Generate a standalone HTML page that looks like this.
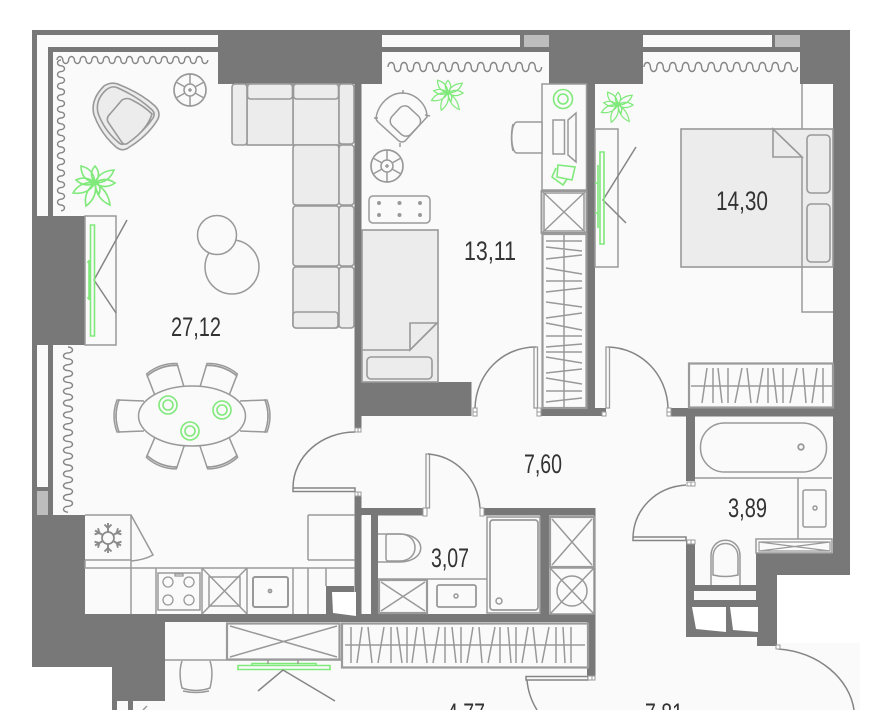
<!DOCTYPE html>
<html><head><meta charset="utf-8"><style>
html,body{margin:0;padding:0;background:#fff}
svg{display:block}
text{font-family:"Liberation Sans Narrow","Liberation Sans",sans-serif;font-size:27px;fill:#333}
.l{fill:none;stroke:#999;stroke-width:1.5}
.d{fill:none;stroke:#858585;stroke-width:1.4}
.f{fill:#ececec;stroke:#999;stroke-width:1.6}
.p{fill:#fafafa;stroke:#999;stroke-width:1.5}
.g{fill:none;stroke:#7fe97a;stroke-width:1.6}
.b{fill:#fafafa;stroke:#9a9a9a;stroke-width:2.2}
</style></head><body>
<svg xmlns="http://www.w3.org/2000/svg" xmlns:xlink="http://www.w3.org/1999/xlink" width="872" height="710" viewBox="0 0 872 710">
<defs>
<g id="plant" class="g" fill="none"><path d="M0 0Q-1 -14 -14 -17Q-14 -3 0 0ZM0 0Q7 -9 0 -17Q-7 -9 0 0ZM0 0Q14 0 19 -13Q4 -12 0 0ZM0 0Q10 7 20 0Q10 -7 0 0ZM0 0Q13 7 15 22Q1 16 0 0ZM0 0Q3 14 -9 23Q-12 9 0 0ZM0 0Q-7 12 -22 10Q-15 -2 0 0ZM0 0Q-9 -8 -19 -3Q-10 5 0 0Z"/><path d="M1 -1Q7 3 4 11Q-1 5 1 -1Z"/></g>
<g id="chair"><path class="p" d="M-15 14L-16 -11Q0 -17 16 -11L15 14"/><path class="l" d="M-16 -13Q0 -19 16 -13L16 -11Q0 -17 -16 -11Z"/></g>
<g id="rt"><circle class="l" r="16" style="stroke-width:1.7"/><circle class="l" r="6"/><path class="l" d="M0 -16V-6M0 6V16M-14 -8L-5 -3M14 -8L5 -3M-14 8L-5 3M14 8L5 3M-2 0H2M0 -2V2"/></g>
<path id="wh" d="M0 0a2.9 3.5 0 0 1 5.800 0a2.900 3.500 0 0 0 5.800 0" fill="none" stroke="#858585" stroke-width="1.400"/>
<path id="wr" d="M0 0a3.200 4.500 0 0 1 6.400 0a3.200 4.500 0 0 0 6.400 0" fill="none" stroke="#858585" stroke-width="1.400"/>
<path id="sp" d="M0 -6V-15M-3.500 -13.500L0 -10L3.500 -13.500" fill="none" stroke="#8a8a8a" stroke-width="1.900"/>
</defs>
<rect width="872" height="710" fill="#fff"/>
<path fill="#fafafa" d="M32 30H850V575H777V643H860V710H112V667H32Z"/>
<g fill="#787878">
<rect x="32" y="30" width="818" height="5"/>
<rect x="32" y="30" width="5" height="486"/>
<rect x="48" y="47" width="170" height="5"/>
<rect x="48" y="47" width="5" height="170"/>
<rect x="48" y="345" width="5" height="170"/>
<rect x="37" y="487" width="11" height="4"/>
<rect x="218" y="30" width="164" height="54"/>
<rect x="382" y="47" width="167" height="5"/>
<rect x="520" y="35" width="4" height="12"/>
<rect x="549" y="30" width="94" height="54"/>
<rect x="643" y="47" width="157" height="5"/>
<rect x="772" y="35" width="3" height="12"/>
<rect x="800" y="30" width="50" height="54"/>
<rect x="833" y="84" width="17" height="491"/>
<rect x="32" y="216" width="53" height="129"/>
<path d="M32 515H85V614H165V701H112V667H32Z"/>
<rect x="85" y="614" width="510" height="8"/>
<rect x="354.500" y="84" width="7" height="344"/>
<rect x="354.500" y="496" width="7" height="118"/>
<rect x="361" y="382" width="110.500" height="34"/>
<rect x="361" y="508" width="64" height="7.500"/>
<rect x="483" y="508" width="112" height="7.500"/>
<rect x="371" y="515" width="7" height="100"/>
<rect x="540" y="515" width="9" height="100"/>
<rect x="594" y="508" width="1.500" height="114"/>
<rect x="587" y="620" width="8.500" height="56"/>
<rect x="586.500" y="84" width="8.500" height="324"/>
<rect x="538" y="408" width="65" height="8"/>
<rect x="670" y="408" width="163" height="8.500"/>
<rect x="590" y="408" width="16" height="8"/>
<rect x="686" y="416" width="9" height="65"/>
<path d="M686 541H695V585H756V553H833V575H777V646H757V637H686Z"/>
<rect x="112" y="701" width="5" height="9"/>
<rect x="128" y="701" width="5" height="9"/>
</g>
<!-- windows gray -->
<rect x="524" y="35" width="25" height="12" fill="#bdbdbd"/>
<rect x="775" y="35" width="25" height="12" fill="#bdbdbd"/>
<rect x="37" y="491" width="11" height="24" fill="#bdbdbd"/>
<!-- niche whites -->
<rect x="694" y="591" width="62" height="9" fill="#fafafa"/>
<path fill="#fff" d="M692 607H726L726 632L696 629Z"/>
<path fill="#fff" d="M730 607H758V632L733 630Z"/>
<rect x="362" y="515" width="9" height="99" fill="#fafafa"/>
<path fill="#787878" d="M326 586H354V614H326Z"/>
<path fill="#fff" d="M332 592H356V616L333 613Z"/>
<!-- curtains -->
<path class="d" d="M57 60a2.900 3.500 0 0 1 5.800 0a2.900 3.500 0 0 0 5.800 0a2.900 3.500 0 0 1 5.800 0a2.900 3.500 0 0 0 5.800 0a2.900 3.500 0 0 1 5.800 0a2.900 3.500 0 0 0 5.800 0a2.900 3.500 0 0 1 5.800 0a2.900 3.500 0 0 0 5.800 0a2.900 3.500 0 0 1 5.800 0a2.900 3.500 0 0 0 5.800 0a2.900 3.500 0 0 1 5.800 0a2.900 3.500 0 0 0 5.800 0a2.900 3.500 0 0 1 5.800 0a2.900 3.500 0 0 0 5.800 0a2.900 3.500 0 0 1 5.800 0a2.900 3.500 0 0 0 5.800 0a2.900 3.500 0 0 1 5.800 0a2.900 3.500 0 0 0 5.800 0a2.900 3.500 0 0 1 5.800 0a2.900 3.500 0 0 0 5.800 0a2.900 3.500 0 0 1 5.800 0a2.900 3.500 0 0 0 5.800 0a2.900 3.500 0 0 1 5.800 0a2.900 3.500 0 0 0 5.800 0a2.900 3.500 0 0 1 5.800 0a2.900 3.500 0 0 0 5.800 0"/>
<path class="d" d="M61 60a3.500 2.900 0 0 0 0 5.800a3.500 2.900 0 0 1 0 5.800a3.500 2.900 0 0 0 0 5.800a3.500 2.900 0 0 1 0 5.800a3.500 2.900 0 0 0 0 5.800a3.500 2.900 0 0 1 0 5.800a3.500 2.900 0 0 0 0 5.800a3.500 2.900 0 0 1 0 5.800a3.500 2.900 0 0 0 0 5.800a3.500 2.900 0 0 1 0 5.800a3.500 2.900 0 0 0 0 5.800a3.500 2.900 0 0 1 0 5.800a3.500 2.900 0 0 0 0 5.800a3.500 2.900 0 0 1 0 5.800a3.500 2.900 0 0 0 0 5.800a3.500 2.900 0 0 1 0 5.800a3.500 2.900 0 0 0 0 5.800a3.500 2.900 0 0 1 0 5.800a3.500 2.900 0 0 0 0 5.800a3.500 2.900 0 0 1 0 5.800a3.500 2.900 0 0 0 0 5.800a3.500 2.900 0 0 1 0 5.800a3.500 2.900 0 0 0 0 5.800a3.500 2.900 0 0 1 0 5.800a3.500 2.900 0 0 0 0 5.800a3.500 2.900 0 0 1 0 5.800"/>
<path class="d" d="M68 347a4.500 2.950 0 0 1 0 5.900a4.500 2.950 0 0 0 0 5.900a4.500 2.950 0 0 1 0 5.900a4.500 2.950 0 0 0 0 5.900a4.500 2.950 0 0 1 0 5.900a4.500 2.950 0 0 0 0 5.900a4.500 2.950 0 0 1 0 5.900a4.500 2.950 0 0 0 0 5.900a4.500 2.950 0 0 1 0 5.900a4.500 2.950 0 0 0 0 5.900a4.500 2.950 0 0 1 0 5.900a4.500 2.950 0 0 0 0 5.900a4.500 2.950 0 0 1 0 5.900a4.500 2.950 0 0 0 0 5.900a4.500 2.950 0 0 1 0 5.900a4.500 2.950 0 0 0 0 5.900a4.500 2.950 0 0 1 0 5.900a4.500 2.950 0 0 0 0 5.900a4.500 2.950 0 0 1 0 5.900a4.500 2.950 0 0 0 0 5.900a4.500 2.950 0 0 1 0 5.900a4.500 2.950 0 0 0 0 5.900a4.500 2.950 0 0 1 0 5.900a4.500 2.950 0 0 0 0 5.900a4.500 2.950 0 0 1 0 5.900a4.500 2.950 0 0 0 0 5.900a4.500 2.950 0 0 1 0 5.900a4.500 2.950 0 0 0 0 5.900"/>
<g id="cr"><use xlink:href="#wr" href="#wr" x="388" y="67"/><use xlink:href="#wr" href="#wr" x="400.800" y="67"/><use xlink:href="#wr" href="#wr" x="413.600" y="67"/><use xlink:href="#wr" href="#wr" x="426.400" y="67"/><use xlink:href="#wr" href="#wr" x="439.200" y="67"/><use xlink:href="#wr" href="#wr" x="452" y="67"/><use xlink:href="#wr" href="#wr" x="464.800" y="67"/><use xlink:href="#wr" href="#wr" x="477.600" y="67"/><use xlink:href="#wr" href="#wr" x="490.400" y="67"/><use xlink:href="#wr" href="#wr" x="503.200" y="67"/><use xlink:href="#wr" href="#wr" x="516" y="67"/><use xlink:href="#wr" href="#wr" x="528.800" y="67"/></g>
<use xlink:href="#cr" href="#cr" x="256"/>
<!-- sofa -->
<g>
<rect x="293" y="84" width="46" height="61" class="f"/>
<rect x="247" y="84" width="46" height="61" class="f"/>
<rect x="232" y="84" width="15" height="61" rx="3" class="f"/>
<rect x="247.500" y="84" width="45" height="15" rx="3" class="f"/>
<rect x="293.500" y="84" width="45" height="15" rx="3" class="f"/>
<rect x="339" y="84" width="15" height="60" rx="3" class="f"/>
<rect x="293" y="145" width="46" height="60" rx="3" class="f"/>
<rect x="339" y="145" width="15" height="60" rx="3" class="f"/>
<rect x="293" y="206" width="46" height="60" rx="3" class="f"/>
<rect x="339" y="206" width="15" height="60" rx="3" class="f"/>
<rect x="293" y="267" width="46" height="61" rx="3" class="f"/>
<rect x="339" y="267" width="15" height="61" rx="3" class="f"/>
<rect x="293" y="312" width="45" height="16" rx="3" class="f"/>
</g>
<!-- armchair -->
<path class="f" d="M104 86Q112 81 120 85Q142 94 155 106Q161 112 158 119Q148 136 128 148Q122 152 116 147Q101 134 94 115Q90 100 104 86Z"/>
<path class="f" d="M106 90Q112 85 118 88Q138 97 151 109Q156 113 153 118Q144 132 126 143Q122 146 118 142Q104 130 98 113Q95 100 106 90Z"/>
<path class="f" d="M122 100Q127 97 132 100Q144 106 152 114Q147 130 128 143Q124 146 121 141L108 122Q106 118 110 114Z"/>
<use xlink:href="#rt" href="#rt" x="190" y="90"/>
<use xlink:href="#plant" href="#plant" x="95" y="183"/>
<!-- circles -->
<circle class="l" cx="232" cy="267" r="27"/>
<circle class="p" cx="217" cy="235" r="19.500"/>
<!-- TV left -->
<rect class="p" x="85" y="216" width="31" height="129"/>
<path class="d" style="stroke-width:1.500" d="M127 220L94 280L116 313"/>
<path class="g" d="M90.500 225H94.500V336H90.500ZM89 260V300M87 262H90M87 298H90"/>
<!-- dining -->
<use xlink:href="#chair" href="#chair" transform="translate(130 416) rotate(-90)"/>
<use xlink:href="#chair" href="#chair" transform="translate(254 416) rotate(90)"/>
<use xlink:href="#chair" href="#chair" transform="translate(166 381) rotate(-19)"/>
<use xlink:href="#chair" href="#chair" transform="translate(218 381) rotate(19)"/>
<use xlink:href="#chair" href="#chair" transform="translate(166 451) rotate(201)"/>
<use xlink:href="#chair" href="#chair" transform="translate(218 451) rotate(159)"/>
<ellipse class="p" cx="192" cy="416" rx="53.500" ry="30"/>
<g class="g"><circle cx="168" cy="405" r="9"/><circle cx="168" cy="405" r="5"/><circle cx="222" cy="410" r="9"/><circle cx="222" cy="410" r="5"/><circle cx="190" cy="431" r="9"/><circle cx="190" cy="431" r="5"/></g>
<!-- doors -->
<path class="d" style="stroke-width:1.500" d="M355 432C322 432 293 456 293 488V491.500H355V488H293"/>
<path class="d" style="stroke-width:1.500" d="M536 347C502 347 476 374 475 408"/>
<path class="l" style="stroke-width:1.300" d="M534 347H537.500V408H534Z"/>
<path class="d" style="stroke-width:1.500" d="M608 347C642 348 667 375 668 408"/>
<path class="l" style="stroke-width:1.300" d="M606 347H609.500V408H606Z"/>
<path class="l" style="stroke-width:1.300" d="M426 454H429.500V508H426Z"/>
<path class="d" style="stroke-width:1.500" d="M428 454C455 456 478 478 480 508"/>
<path class="d" style="stroke-width:1.500" d="M686 485C655 487 634 510 633 537V540.500H686V537H633"/>
<path class="d" style="stroke-width:1.500" d="M526 680H588V676.500H526ZM527 680C528 692 532 702 537 710"/>
<path class="d" style="stroke-width:1.500" d="M778 649C820 652 850 680 854 710"/>
<g fill="#fff" stroke="#9a9a9a" stroke-width="1"><rect x="355" y="428" width="3" height="4"/><rect x="358" y="428" width="3" height="4"/><rect x="355" y="492" width="3" height="4"/><rect x="358" y="492" width="3" height="4"/><rect x="473" y="408" width="4" height="4"/><rect x="473" y="412" width="4" height="4"/><rect x="537" y="408" width="4" height="4"/><rect x="537" y="412" width="4" height="4"/><rect x="602" y="412" width="4" height="4"/><rect x="667" y="408" width="4" height="4"/><rect x="667" y="412" width="4" height="4"/><rect x="423" y="508" width="4" height="8"/><rect x="480" y="508" width="4" height="8"/><rect x="687" y="482" width="4" height="4"/><rect x="691" y="482" width="4" height="4"/><rect x="687" y="540" width="4" height="4"/><rect x="691" y="540" width="4" height="4"/><rect x="776" y="645" width="4" height="4"/><rect x="588" y="676" width="4" height="4"/><rect x="592" y="676" width="3" height="4"/></g>
<!-- room 2 -->
<use xlink:href="#plant" href="#plant" transform="translate(448 93) scale(.75)"/>
<use xlink:href="#plant" href="#plant" transform="translate(618 105) scale(.75)"/>
<path class="l" d="M376 118C378 104 390 93 402 93C415 93 427 104 427 117L405 141Q402 143 399 141L378 122Q376 120 376 118Z"/>
<rect class="l" x="-12" y="-12" width="26" height="25" rx="7" transform="translate(405 120) rotate(43)"/>
<path class="l" d="M403 90V94M374 118H378M400 143V147M425 115L430 116"/>
<use xlink:href="#rt" href="#rt" x="387" y="166"/>
<rect class="l" x="369" y="196" width="61" height="27" rx="4"/>
<g fill="#999"><circle cx="379" cy="203" r="2"/><circle cx="399.500" cy="203" r="2"/><circle cx="420" cy="203" r="2"/><circle cx="379" cy="215" r="2"/><circle cx="399.500" cy="215" r="2"/><circle cx="420" cy="215" r="2"/></g>
<rect class="f" x="362" y="230" width="76" height="152"/>
<rect class="f" x="367" y="357" width="65" height="22" rx="4"/>
<path class="f" d="M410 350V323H437Z"/>
<path class="l" d="M362 350H410L437 323"/>
<!-- desk -->
<rect class="p" x="542" y="84" width="44.500" height="106"/>
<path class="p" d="M542 122H517C510 122 510 153 517 153H542Z"/>
<path class="l" d="M513 124C511 132 511 143 513 151"/>
<circle class="g" cx="563" cy="99" r="9.500"/><circle class="g" cx="563" cy="99" r="5"/>
<rect class="l" x="553" y="120" width="11.500" height="34"/>
<path class="l" d="M568 120L576 113V162L568 155Z"/>
<path class="g" d="M558 165L575 167L572 180L557 177ZM556 168L552 177L563 185L567 179"/>
<!-- shaft in closet -->
<rect class="p" x="541.500" y="191" width="45" height="42" style="stroke-width:2"/>
<path class="l" d="M543 192L585 232M585 192L543 232M544 193H584V231H544Z"/>
<rect class="b" x="542.500" y="234" width="44" height="174"/>
<path class="l" d="M564 235V407M546 241H582M546 247L582 251M546 259L582 255M546 268L582 274M546 281H582M546 292L582 288M546 302L582 307M546 318L582 313M546 323L582 330M546 336H582M546 347L582 344M546 352H582M546 357L582 363M546 373L582 369M546 378L582 384M546 391H582M546 402L582 398"/>
<!-- bedroom -->
<rect class="p" x="595" y="129" width="23" height="138"/>
<path class="d" style="stroke-width:1.500" d="M636 147L603 200L626 223"/>
<path class="g" d="M600 152H604V244H600ZM598 165V228M595 183H598M595 213H598"/>
<path class="l" d="M802 84V129M802 267V312H833"/>
<rect class="f" x="681" y="129" width="152" height="138"/>
<rect class="f" x="807" y="135" width="23" height="58" rx="4"/>
<rect class="f" x="807" y="204" width="23" height="58" rx="4"/>
<path class="l" d="M802 157V267"/>
<path class="f" d="M773 129L802 157H773Z"/>
<rect class="b" x="689" y="363.500" width="144" height="44"/>
<path class="l" d="M691 386H832M707 368L702 403M713 368V403M718 368L722 403M728 368V403M742 368L735 403M747 368L751 403M763 368L757 403M768 368V403M773 368L777 403M783 368V403M797 368L790 403M803 368L806 403M817 368L812 403M823 368V403"/>
<!-- bath 2 -->
<rect class="l" x="700.500" y="423" width="126" height="49" rx="24"/>
<circle class="l" cx="801" cy="447" r="2.800" style="stroke-width:1.800"/>
<path class="l" d="M695 478H832M798 478V539"/>
<rect class="l" x="803" y="490" width="23" height="37" rx="2"/>
<circle class="l" cx="815" cy="508" r="2"/>
<rect class="p" x="756" y="539" width="76" height="14"/>
<path class="l" style="stroke-width:1.200" d="M759 542H830V551H759ZM759 542L830 551M830 542L759 551"/>
<path class="l" d="M711 585V556C711 535 740 535 740 556V585M713 575V557C713 539 738 539 738 557V575Q725 578 713 575Z"/>
<!-- bath 1 -->
<path class="l" d="M378 534H399C428 534 428 562 399 562H378"/>
<path class="l" d="M388 534Q386 534 386 537V558Q386 561 388 561H400C420 561 420 534 400 534Z"/>
<path class="l" d="M378 579H487"/>
<rect class="b" x="379" y="580" width="48" height="33"/>
<path class="l" d="M381 582L425 611M425 582L381 611"/>
<rect class="l" style="stroke-width:1.800" x="437" y="585" width="39" height="22" rx="2"/>
<circle class="l" cx="456" cy="596" r="2"/>
<rect class="l" x="487" y="517" width="53" height="96"/>
<rect class="l" style="stroke-width:1.700" x="490" y="520" width="48" height="90" rx="3"/>
<circle class="l" cx="499" cy="601" r="3"/>
<rect class="b" x="550" y="517" width="44" height="50"/>
<path class="l" d="M552 519L592 565M592 519L552 565"/>
<path class="l" d="M550 568H594V614H550ZM550 568L594 614M594 568L550 614"/>
<circle class="l" cx="572" cy="591" r="15"/>
<!-- kitchen -->
<g class="l">
<path d="M85 515H131V560H85M131 515L153 555Q144 560 131 561M131 560V614M85 560V568H355M156 568V614M202 568V614M247 568V614M293 568V614M308 568V614M326 568V586M308 515H355M308 515V560M308 560H355"/>
<rect x="158" y="573" width="42" height="37"/>
<rect x="209" y="577" width="31" height="29"/>
<path d="M202 568L247 614M247 568L202 614"/>
<rect x="253" y="577" width="35" height="30" rx="2" style="stroke-width:2"/>
</g>
<g class="l" style="stroke-width:1.300"><circle cx="168" cy="582" r="5"/><circle cx="189" cy="582" r="5"/><circle cx="168" cy="600" r="5"/><circle cx="189" cy="600" r="5"/><circle cx="270" cy="591" r="1.500" style="stroke-width:1.800"/><path d="M175 574H183V576H175Z"/></g>
<g transform="translate(108 538)"><circle r="6" fill="none" stroke="#8a8a8a" stroke-width="1.700"/><use xlink:href="#sp" href="#sp"/><use xlink:href="#sp" href="#sp" transform="rotate(60)"/><use xlink:href="#sp" href="#sp" transform="rotate(120)"/><use xlink:href="#sp" href="#sp" transform="rotate(180)"/><use xlink:href="#sp" href="#sp" transform="rotate(240)"/><use xlink:href="#sp" href="#sp" transform="rotate(300)"/></g>
<!-- corridor bottom -->
<path class="l" d="M165 660H342"/>
<rect class="b" x="227" y="623.500" width="112.500" height="36"/>
<path class="l" d="M230 626L337 657M337 626L230 657"/>
<path class="g" d="M238 665.500H330V669.500H238ZM252 665.500V663.500H316V665.500"/>
<path class="l" d="M268 660V664M298 660V664"/>
<path class="d" style="stroke-width:1.500" d="M258 691L283 670L335 701"/>
<path class="l" d="M182 661C179 670 180 680 182 688Q196 693 210 688C212 680 213 670 210 661"/>
<path class="l" d="M183 691Q196 694 209 691"/>
<rect class="b" x="342" y="623.500" width="246" height="44"/>
<path class="l" d="M345 645H585M351 627V663M362 627L357 663M368 627L372 663M384 627L378 663M391 627V663M397 627L402 663M407 627V663M417 627L412 663M423 627L427 663M439 627L433 663M445 627V663M452 627L456 663M461 627V663M473 627L467 663M479 627L482 663M495 627L488 663M500 627V663M508 627L511 663M516 627V663M528 627L522 663M533 627L537 663M549 627L542 663M556 627V663M563 627L565 663M571 627V663"/>
<path class="l" d="M147 706L143 710"/>
<!-- labels -->
<text x="171" y="336" textLength="50" lengthAdjust="spacingAndGlyphs">27,12</text>
<text x="464" y="260" textLength="52" lengthAdjust="spacingAndGlyphs">13,11</text>
<text x="716" y="210" textLength="52" lengthAdjust="spacingAndGlyphs">14,30</text>
<text x="524" y="473" textLength="38" lengthAdjust="spacingAndGlyphs">7,60</text>
<text x="431" y="567" textLength="38" lengthAdjust="spacingAndGlyphs">3,07</text>
<text x="728" y="517" textLength="39" lengthAdjust="spacingAndGlyphs">3,89</text>
<text x="447" y="722" textLength="38" lengthAdjust="spacingAndGlyphs">4,77</text>
<text x="645" y="722" textLength="38" lengthAdjust="spacingAndGlyphs">7,81</text>
</svg>
</body></html>
